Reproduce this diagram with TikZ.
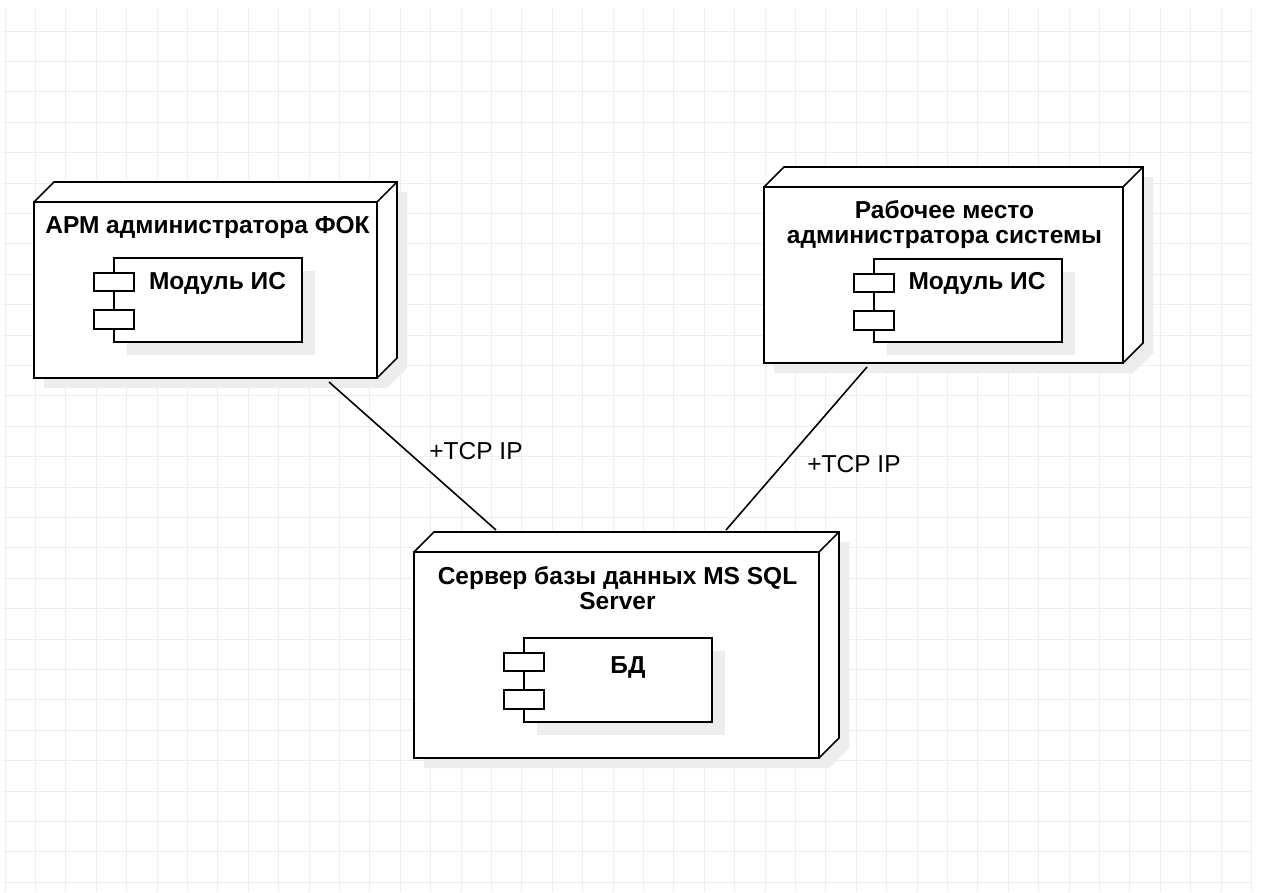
\documentclass[tikz,border=0pt]{standalone}
\usepackage{fontspec}
\setmainfont{Liberation Sans}
\usetikzlibrary{calc}
\definecolor{gridc}{RGB}{238,238,238}
\definecolor{shadowc}{RGB}{237,237,237}
\newcommand\mycube[5]{%
  \fill[shadowc] (#2+10,#3+10) -- (#2+30,#3-10) -- (#4+30,#3-10) -- (#4+30,#5-10) -- (#4+10,#5+10) -- (#2+10,#5+10) -- cycle;
  \draw[edge, fill=white] (#2,#3) -- (#2+20,#3-20) -- (#4+20,#3-20) -- (#4+20,#5-20) -- (#4,#5) -- (#2,#5) -- cycle;
  \node[face, minimum width={#4-#2}, minimum height={#5-#3}] (#1) at ({(#2+#4)/2},{(#3+#5)/2}) {};
  \draw[edge] (#1.north east) -- ++(20pt,20pt);
}
\newcommand\mycomp[5]{%
  \fill[shadowc] (#2+13,#3+13) rectangle (#4+13,#5+13);
  \node[face, minimum width={#4-#2}, minimum height={#5-#3}] (#1) at ({(#2+#4)/2},{(#3+#5)/2}) {};
  \node[face, minimum width=40, minimum height=18.5] (#1-p1) at (#2,#3+24) {};
  \node[face, minimum width=40, minimum height=18.5] (#1-p2) at (#2,#3+61.5) {};
}
\begin{document}
\begin{tikzpicture}[x=1pt,y=-1pt,
  edge/.style={draw=black, line width=1.6pt, line join=miter},
  face/.style={draw=black, line width=1.6pt, fill=white, rectangle, inner sep=0pt, outer sep=0pt},
  title/.style={font=\fontsize{24.5}{25}\selectfont\bfseries, align=center, inner sep=0pt},
  lbl/.style={font=\fontsize{24.5}{25}\selectfont, inner sep=0pt},
  conn/.style={draw=black, line width=1.6pt}]
\useasboundingbox (0,0) rectangle (1263,892);
\fill[white] (0,0) rectangle (1263,892);
% grid
\foreach \i in {0,...,41} \draw[gridc, line width=1pt] (5+30.4*\i,8) -- (5+30.4*\i,892);
\foreach \j in {0,...,28} \draw[gridc, line width=1pt] (3,31+30.4*\j) -- (1251,31+30.4*\j);
% nodes
\mycube{n1}{34}{202}{377}{378}
\mycube{n2}{764}{187}{1123}{363}
\mycube{n3}{414}{552}{819}{758}
\mycomp{c1}{114}{258}{302}{342}
\mycomp{c2}{874}{259}{1062}{342}
\mycomp{c3}{524}{638}{712}{722}
% titles
\node[title, anchor=base] (t1) at (207.5,233) {АРМ администратора ФОК};
\node[title, anchor=north] (t2) at (944.5,200) {Рабочее место\\администратора системы};
\node[title, anchor=north] (t3) at (617.5,566) {Сервер базы данных MS SQL\\Server};
\node[title, anchor=base] (l1) at (217.5,289) {Модуль ИС};
\node[title, anchor=base] (l2) at (977,289) {Модуль ИС};
\node[title, anchor=base] (l3) at (628,673) {БД};
% connectors
\draw[conn] ([xshift=123.5pt,yshift=-4pt]n1.south) -- ([xshift=-120.5pt,yshift=22pt]n3.north);
\draw[conn] ([xshift=-76.5pt,yshift=-4pt]n2.south) -- ([xshift=109.5pt,yshift=22pt]n3.north);
\node[lbl, anchor=base] (e1) at (476,459) {+TCP IP};
\node[lbl, anchor=base] (e2) at (854,472) {+TCP IP};
\end{tikzpicture}
\end{document}
